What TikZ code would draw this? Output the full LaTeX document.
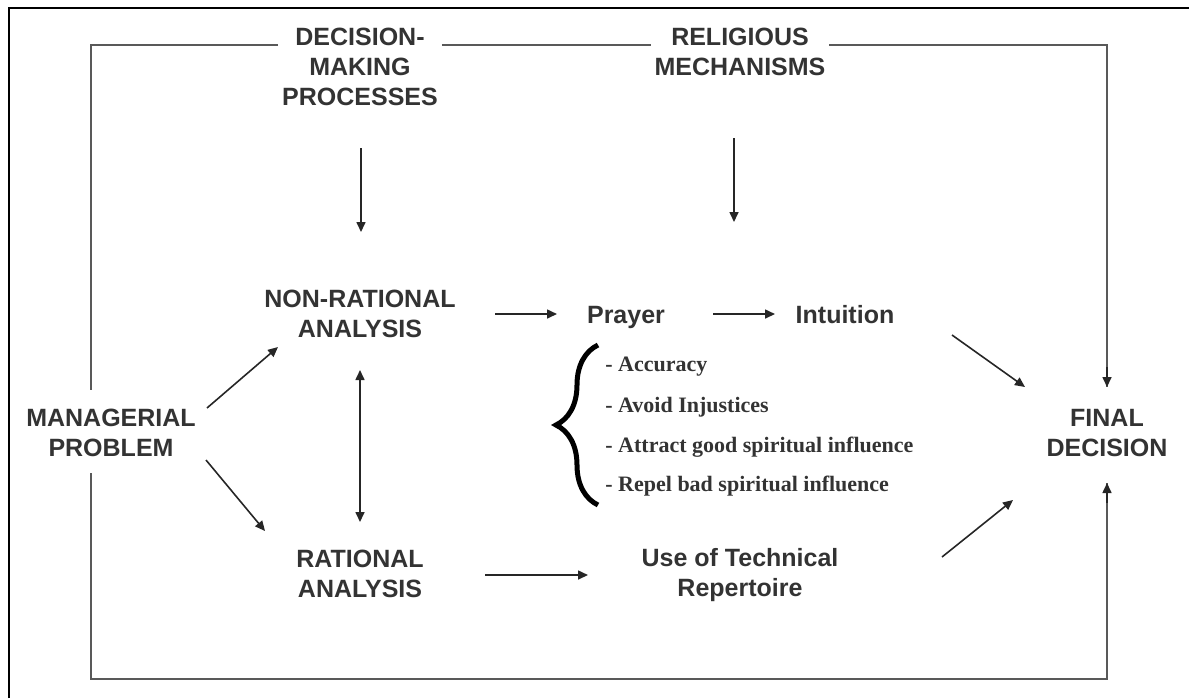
\documentclass[tikz,border=0pt]{standalone}
\usepackage{fontspec}
\setsansfont{Liberation Sans}
\newfontfamily\itemfont{Liberation Serif}
\usetikzlibrary{arrows.meta,decorations.pathreplacing}

\begin{document}
\begin{tikzpicture}[x=0.5pt, y=-0.5pt,
    lbl/.style={align=center, text=black!80, inner sep=0pt, outer sep=2pt,
        font=\sffamily\bfseries\fontsize{12.5}{15}\selectfont},
    item/.style={anchor=west, text=black!80, inner sep=0pt,
        font=\itemfont\bfseries\fontsize{11}{12}\selectfont},
    arr/.style={-{Triangle[length=5pt,width=4.5pt]}, line width=0.8pt, black!85},
    loopline/.style={line width=1.2pt, black!65}]
    \useasboundingbox (0,0) rectangle (1189,698);

    % Frame
    \draw[line width=1pt] (9,698) -- (9,8) -- (1189,8);

    % Top labels
    \node[lbl] (dmp) at (360,67) {DECISION-\\MAKING\\PROCESSES};
    \node[lbl] (relig) at (740,52) {RELIGIOUS\\MECHANISMS};

    % Problem and analyses
    \node[lbl] (mgr) at (111,433) {MANAGERIAL\\PROBLEM};
    \node[lbl] (nonrat) at (360,314) {NON-RATIONAL\\ANALYSIS};
    \node[lbl] (rat) at (360,574) {RATIONAL\\ANALYSIS};

    % Middle column
    \node[lbl, anchor=base] (prayer) at (626,323) {Prayer};
    \node[lbl, anchor=base] (intuit) at (845,323) {Intuition};
    \node[lbl] (tech) at (740,575) {Use of Technical\\Repertoire};

    % Final decision
    \node[lbl] (final) at (1107,433) {FINAL\\DECISION};

    % Brace and its list
    \draw[line width=2.5pt, decorate, decoration={brace, amplitude=21pt}]
        (598,505) -- (598,345);
    \node[item] (acc) at (605,367) {- Accuracy};
    \node[item] (inj) at (605,407) {- Avoid Injustices};
    \node[item] (good) at (605,447) {- Attract good spiritual influence};
    \node[item] (bad) at (605,486) {- Repel bad spiritual influence};

    % Arrow ends
    \coordinate (dmpA) at (361,148);  \coordinate (dmpB) at (361,232);
    \coordinate (relA) at (734,138);  \coordinate (relB) at (734,222);
    \coordinate (upA) at (207,408);   \coordinate (upB) at (278,347);
    \coordinate (dnA) at (206,460);   \coordinate (dnB) at (265,531);
    \coordinate (vA) at (360,370);    \coordinate (vB) at (360,522);
    \coordinate (npA) at (495,314);   \coordinate (npB) at (557,314);
    \coordinate (piA) at (713,314);   \coordinate (piB) at (775,314);
    \coordinate (rtA) at (485,575);   \coordinate (rtB) at (588,575);
    \coordinate (ifA) at (952,335);   \coordinate (ifB) at (1025,387);
    \coordinate (tfA) at (942,557);   \coordinate (tfB) at (1013,500);

    % Arrows
    \draw[arr] (dmpA) -- (dmpB);
    \draw[arr] (relA) -- (relB);
    \draw[arr] (upA) -- (upB);
    \draw[arr] (dnA) -- (dnB);
    \draw[arr, {Triangle[length=5pt,width=4.5pt]}-{Triangle[length=5pt,width=4.5pt]}] (vA) -- (vB);
    \draw[arr] (npA) -- (npB);
    \draw[arr] (piA) -- (piB);
    \draw[arr] (rtA) -- (rtB);
    \draw[arr] (ifA) -- (ifB);
    \draw[arr] (tfA) -- (tfB);

    % Outer loop
    \coordinate (tl) at (91,45);   \coordinate (tr) at (1107,45);
    \coordinate (bl) at (91,679);  \coordinate (br) at (1107,679);
    \coordinate (mgrT) at (91,390);  \coordinate (mgrB) at (91,473);
    \coordinate (finT) at (1107,387);  \coordinate (finB) at (1107,483);
    \draw[loopline] (dmp.west |- tl) -- (tl) -- (mgrT);
    \draw[loopline] (dmp.east |- tl) -- (relig.west |- tl);
    \draw[loopline] (relig.east |- tl) -- (tr) -- (finT);
    \draw[loopline] (mgrB) -- (bl) -- (br) -- (finB);
    \draw[arr] ([yshift=10pt]finT) -- (finT);
    \draw[arr] ([yshift=-10pt]finB) -- (finB);
\end{tikzpicture}
\end{document}
